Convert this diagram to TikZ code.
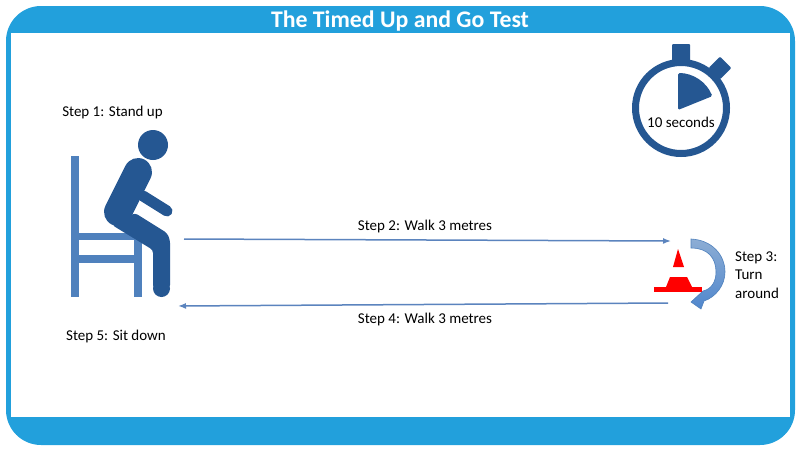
\documentclass[tikz,border=0pt]{standalone}
\usepackage{fontspec}
\setmainfont{Carlito}
\usetikzlibrary{arrows.meta}
\definecolor{cF}{RGB}{34,160,220}
\definecolor{cP}{RGB}{37,87,146}
\definecolor{cC}{RGB}{79,129,189}
\definecolor{cA}{RGB}{91,132,190}
\definecolor{cT}{RGB}{80,135,205}
\tikzset{
    steptext/.style={font=\fontsize{15}{18.5}\selectfont, text=black, inner sep=0pt},
    walk/.style={draw=cA, line width=1.5pt, -{Latex[length=8pt,width=6pt]}},
}

\begin{document}
\begin{tikzpicture}[x=1pt, y=-1pt]
    \useasboundingbox (0, 0) rectangle (800, 450);

    % --- Frame ---
    \fill[cF, rounded corners=35pt] (6, 6) rectangle (795, 445);
    \fill[white] (11, 33) rectangle (790, 417);
    \node[font=\fontsize{23.8}{26}\selectfont\bfseries, text=white] (title) at (400, 21) {The Timed Up and Go Test};

    % --- Chair ---
    \fill[cC] (71, 156) rectangle (79, 297);
    \fill[cC] (134, 233) rectangle (142, 297);
    \fill[cC] (79, 233) rectangle (134, 240);
    \fill[cC] (79, 255) rectangle (134, 263);

    % --- Person ---
    \fill[cP] (153, 145) circle (15);
    \draw[cP, line width=28pt, line cap=round] (138, 172) -- (118, 212);
    \draw[cP, line width=11pt, line cap=round] (143, 196) -- (167, 211);
    \fill[cP, rounded corners=3pt] (135, 213) -- (167, 233) -- (170, 240) -- (170, 288) -- (153, 288) -- (153, 250) -- (112, 225) -- cycle;
    \fill[cP] (161.5, 288.5) circle (8.5);

    % --- Stopwatch ---
    \fill[cP, rounded corners=1pt] (672, 44) rectangle (690, 65);
    \fill[cP, rotate around={45:(720, 68)}, rounded corners=1pt] (712, 60) rectangle (728, 76);
    \draw[cP, line width=7pt, fill=white] (681, 108) circle (45.5);
    \fill[cP, rounded corners=1.5pt] (678, 110) -- (678, 73) arc (-90:-22:37) -- cycle;
    \node[font=\fontsize{15}{17}\selectfont, inner sep=0pt] (timer) at (681, 122) {10 seconds};

    % --- Cone ---
    \fill[red] (678, 249) -- (684, 267) -- (673, 267) -- cycle;
    \fill[red] (670, 277) -- (687, 277) -- (692, 287) -- (666, 287) -- cycle;
    \fill[red] (654, 287) rectangle (702, 292);

    % --- Turn arrow ---
    \path[draw=cC, line width=0.6pt, top color=cC!65!white, bottom color=cT]
        (691, 239) .. controls (712, 240) and (725, 255) .. (725, 272)
        .. controls (725, 285) and (716, 297) .. (704, 301)
        -- (701, 309) -- (691, 302) -- (703, 291)
        .. controls (712, 289) and (716, 281) .. (716, 272)
        .. controls (716, 258) and (708, 248) .. (691, 248) -- cycle;

    % --- Walking arrows ---
    \coordinate (goStart) at (184, 239);
    \coordinate (goEnd) at (671, 241);
    \coordinate (backStart) at (668, 303);
    \coordinate (backEnd) at (178, 306);
    \draw[walk] (goStart) -- (goEnd);
    \draw[walk] (backStart) -- (backEnd);

    % --- Labels ---
    \node[steptext] (step1) at (112.5, 112) {Step 1: Stand up};
    \node[steptext] (step2) at (425, 226) {Step 2: Walk 3 metres};
    \node[steptext, align=left, anchor=west] (step3) at (735, 275) {Step 3:\\Turn\\around};
    \node[steptext] (step4) at (425, 319) {Step 4: Walk 3 metres};
    \node[steptext] (step5) at (116, 336) {Step 5: Sit down};

\end{tikzpicture}
\end{document}
